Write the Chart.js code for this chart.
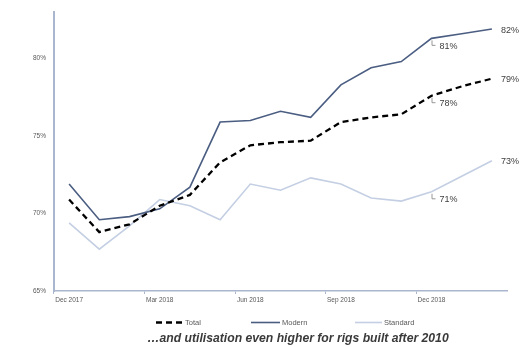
<!DOCTYPE html>
<html>
<head>
<meta charset="utf-8">
<script src="https://cdn.jsdelivr.net/npm/chart.js@4"></script>
<style>
  html, body { margin: 0; padding: 0; background: #ffffff; }
  #wrap { width: 523px; height: 347px; }
</style>
</head>
<body>
<div id="wrap"><canvas id="c" width="523" height="347"></canvas></div>
<script>
// Monthly fleet utilisation, Dec 2017 – Feb 2019 (%)
const months = ['Dec 2017', 'Jan 2018', 'Feb 2018', 'Mar 2018', 'Apr 2018', 'May 2018', 'Jun 2018',
                'Jul 2018', 'Aug 2018', 'Sep 2018', 'Oct 2018', 'Nov 2018', 'Dec 2018', 'Jan 2019', 'Feb 2019'];
const total    = [70.9, 68.8, 69.3, 70.5, 71.2, 73.3, 74.4, 74.6, 74.7, 75.9, 76.2, 76.4, 77.6, 78.2, 78.7];
const modern   = [71.9, 69.6, 69.8, 70.3, 71.7, 75.9, 76.0, 76.6, 76.2, 78.3, 79.4, 79.8, 81.3, 81.6, 81.9];
const standard = [69.4, 67.7, 69.2, 70.9, 70.5, 69.6, 71.9, 71.5, 72.3, 71.9, 71.0, 70.8, 71.4, 72.4, 73.4];
const yTicks   = [65, 70, 75, 80];

const AXIS = '#A9B6CE';
const TXT = '#404040';

// Value callouts: a bracketed label at Dec 2018 and a plain one at the last month
const callouts = {
  id: 'callouts',
  afterDatasetsDraw(chart) {
    const ctx = chart.ctx;
    ctx.save();
    ctx.font = '9px "Liberation Sans", Arial, sans-serif';
    ctx.fillStyle = TXT;
    ctx.textBaseline = 'middle';
    ctx.textAlign = 'left';
    chart.data.datasets.forEach((ds, di) => {
      const pts = chart.getDatasetMeta(di).data;
      const mid = 12, last = pts.length - 1;
      // bracket leader
      const p = pts[mid];
      ctx.strokeStyle = '#7f7f7f';
      ctx.lineWidth = 0.8;
      ctx.beginPath();
      ctx.moveTo(p.x + 0.5, p.y + 2);
      ctx.lineTo(p.x + 0.5, p.y + 7);
      ctx.lineTo(p.x + 4, p.y + 7);
      ctx.stroke();
      ctx.fillText(Math.round(ds.data[mid]) + '%', p.x + 8, p.y + 8);
      const q = pts[last];
      ctx.fillText(Math.round(ds.data[last]) + '%', q.x + 9, q.y + 1);
    });
    ctx.restore();
  }
};

// Legend row and caption under the plot
const footer = {
  id: 'footer',
  afterDraw(chart) {
    const ctx = chart.ctx;
    const items = [
      { ds: 0, x0: 156, x1: 183 },
      { ds: 1, x0: 251, x1: 280 },
      { ds: 2, x0: 355, x1: 382 }
    ];
    const y = 322.5;
    ctx.save();
    items.forEach(it => {
      const ds = chart.data.datasets[it.ds];
      ctx.strokeStyle = ds.borderColor;
      ctx.lineWidth = ds.borderWidth;
      ctx.setLineDash(ds.borderDash || []);
      ctx.beginPath();
      ctx.moveTo(it.x0, y);
      ctx.lineTo(it.x1, y);
      ctx.stroke();
      ctx.setLineDash([]);
      ctx.font = '7.5px "Liberation Sans", Arial, sans-serif';
      ctx.fillStyle = '#595959';
      ctx.textBaseline = 'middle';
      ctx.textAlign = 'left';
      ctx.fillText(ds.label, it.x1 + 2, y + 0.5);
    });
    ctx.font = 'italic bold 12.2px "Liberation Sans", Arial, sans-serif';
    ctx.fillStyle = '#3a3a3a';
    ctx.textAlign = 'center';
    ctx.textBaseline = 'middle';
    ctx.fillText('…and utilisation even higher for rigs built after 2010', 298, 339);
    ctx.restore();
  }
};

new Chart(document.getElementById('c'), {
  type: 'line',
  data: {
    labels: months,
    datasets: [
      { label: 'Total', data: total, borderColor: '#000000', borderWidth: 2.3, borderDash: [6, 4],
        pointRadius: 0, tension: 0, fill: false },
      { label: 'Modern', data: modern, borderColor: '#4B5E82', borderWidth: 1.6,
        pointRadius: 0, tension: 0, fill: false },
      { label: 'Standard', data: standard, borderColor: '#C4CFE3', borderWidth: 1.6,
        pointRadius: 0, tension: 0, fill: false }
    ]
  },
  options: {
    responsive: false,
    animation: false,
    events: [],
    layout: { padding: { top: 12, right: 16, bottom: 40, left: 0 } },
    plugins: { legend: { display: false }, title: { display: false }, tooltip: { enabled: false } },
    scales: {
      x: {
        type: 'category',
        offset: true,
        afterFit(s) { s.height = 16; },
        border: { display: true, color: AXIS, width: 1.5 },
        grid: {
          offset: true,
          drawOnChartArea: false,
          drawTicks: true,
          tickLength: 3,
          color: (c) => (c.index % 3 === 0 ? AXIS : 'rgba(0,0,0,0)'),
          lineWidth: 1
        },
        ticks: {
          autoSkip: false,
          maxRotation: 0,
          padding: 2,
          color: '#595959',
          font: { family: '"Liberation Sans", Arial, sans-serif', size: 6.5 },
          callback(v, i) { return i % 3 === 0 ? months[i] : ''; }
        }
      },
      y: {
        min: 65,
        max: 83,
        afterFit(s) { s.width = 54; },
        afterBuildTicks(s) { s.ticks = yTicks.map(v => ({ value: v })); },
        border: { display: true, color: AXIS, width: 2 },
        grid: { display: false, drawTicks: false },
        ticks: {
          padding: 8,
          color: '#595959',
          font: { family: '"Liberation Sans", Arial, sans-serif', size: 6.5 },
          callback(v) { return v + '%'; }
        }
      }
    }
  },
  plugins: [callouts, footer]
});
</script>
</body>
</html>
